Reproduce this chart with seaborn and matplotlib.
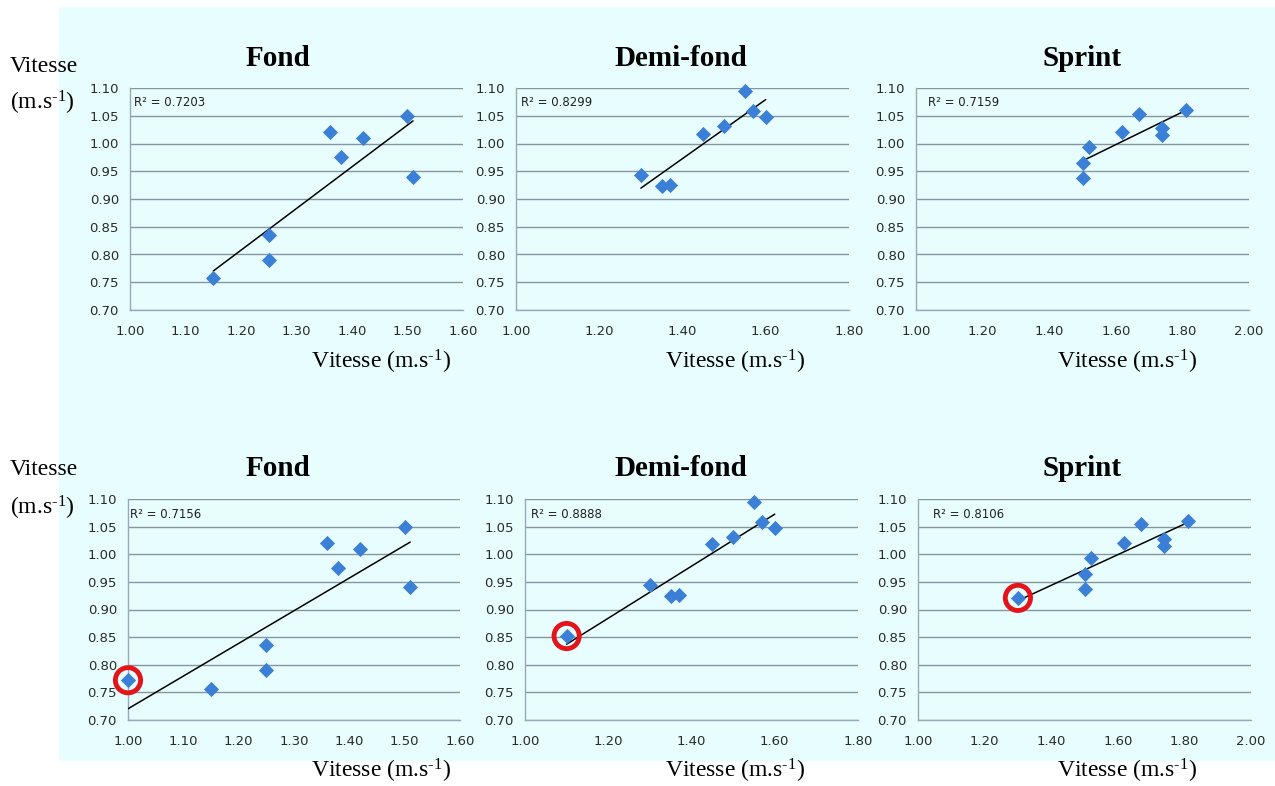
import numpy as np
import pandas as pd
import matplotlib
matplotlib.use("Agg")
import matplotlib.pyplot as plt
import seaborn as sns

# donnees
fond_x = [1.15, 1.25, 1.25, 1.36, 1.38, 1.42, 1.50, 1.51]
fond_y = [0.757, 0.836, 0.790, 1.020, 0.976, 1.010, 1.050, 0.940]
demi_x = [1.30, 1.35, 1.37, 1.45, 1.50, 1.55, 1.57, 1.60]
demi_y = [0.944, 0.924, 0.926, 1.018, 1.032, 1.094, 1.058, 1.047]
sprint_x = [1.50, 1.50, 1.52, 1.62, 1.67, 1.74, 1.74, 1.81]
sprint_y = [0.965, 0.937, 0.993, 1.020, 1.054, 1.028, 1.015, 1.060]

# point ajoute (entoure en rouge) dans la 2e ligne
extra_x = [1.00, 1.10, 1.30]
extra_y = [0.772, 0.852, 0.921]

titres = ["Fond", "Demi-fond", "Sprint"]
r2_haut = ["0.7203", "0.8299", "0.7159"]
r2_bas = ["0.7156", "0.8888", "0.8106"]
x_max = [1.6, 1.8, 2.0]
x_pas = [0.1, 0.2, 0.2]
y_ticks = [0.70, 0.75, 0.80, 0.85, 0.90, 0.95, 1.00, 1.05, 1.10]

sns.set_style("white")
plt.rcParams['font.family'] = ['DejaVu Sans']
plt.rcParams['text.color'] = 'black'
plt.rcParams['mathtext.fontset'] = 'custom'
plt.rcParams['mathtext.rm'] = 'Liberation Serif'
plt.rcParams['mathtext.it'] = 'Liberation Serif:italic'
plt.rcParams['mathtext.bf'] = 'Liberation Serif:bold'

W, H = 1275, 786
fig = plt.figure(figsize=(W / 100, H / 100), dpi=100)
fig.patch.set_facecolor("white")
fig.add_artist(plt.Rectangle((59 / W, 1 - 760 / H), (W - 59) / W, (760 - 7) / H,
                             transform=fig.transFigure, color="#E8FEFE", zorder=0))

serif = "Liberation Serif"
bleu = "#3B80D6"
grille = "#8795A3"
unite = r"(m.s$^{\text{-1}}$)"

# boites des axes en pixels (gauche, droite, haut, bas)
boites = [
    [(130, 463, 88, 310), (516, 849, 88, 310), (916, 1249, 88, 310)],
    [(128, 460, 499, 720), (525, 858, 499, 720), (918, 1251, 499, 720)],
]
r2_dx = [[4, 5, 12], [2, 6, 15]]
titre_x = [278, 681, 1082]
xlabel_x = [381, 735, 1127]

donnees = [(fond_x, fond_y), (demi_x, demi_y), (sprint_x, sprint_y)]

for ligne in range(2):
    for j in range(3):
        l, r, t, b = boites[ligne][j]
        ax = fig.add_axes([l / W, 1 - b / H, (r - l) / W, (b - t) / H])
        ax.set_facecolor("none")
        xs, ys = list(donnees[j][0]), list(donnees[j][1])
        if ligne == 1:
            xs = [extra_x[j]] + xs
            ys = [extra_y[j]] + ys
        df = pd.DataFrame({"x": xs, "y": ys})

        sns.regplot(data=df, x="x", y="y", ax=ax, scatter=False, ci=None,
                    truncate=True, line_kws={"color": "black", "lw": 1.1, "zorder": 3})
        sns.scatterplot(data=df, x="x", y="y", ax=ax, marker="D", s=60,
                        color=bleu, edgecolor=bleu, linewidth=0, zorder=4, clip_on=False)
        if ligne == 1:
            ax.scatter([extra_x[j]], [extra_y[j]], s=330, facecolors="none",
                       edgecolors="#E5141B", linewidths=3.5, zorder=5, clip_on=False)

        ax.set_xlim(1.0, x_max[j])
        ax.set_ylim(0.70, 1.10)
        ax.set_xticks(np.arange(1.0, x_max[j] + 1e-9, x_pas[j]))
        ax.set_yticks(y_ticks)
        ax.xaxis.set_major_formatter(matplotlib.ticker.FormatStrFormatter("%.2f"))
        ax.yaxis.set_major_formatter(matplotlib.ticker.FormatStrFormatter("%.2f"))
        ax.grid(axis="y", color=grille, lw=1.0, zorder=1)
        ax.set_axisbelow(True)
        for s in ["top", "right"]:
            ax.spines[s].set_visible(False)
        for s in ["left", "bottom"]:
            ax.spines[s].set_color("#98A8BA")
            ax.spines[s].set_linewidth(1.0)
        ax.tick_params(axis="both", which="major", direction="out", length=5,
                       width=1.0, color="#98A8BA", labelsize=9.5, labelcolor="#2A2A2A", pad=3)
        ax.tick_params(axis="x", pad=6)
        ax.set_xlabel("")
        ax.set_ylabel("")

        r2 = r2_haut[j] if ligne == 0 else r2_bas[j]
        ax.annotate("R² = " + r2, xy=(0, 1), xycoords="axes fraction",
                    xytext=(r2_dx[ligne][j], -15), textcoords="offset pixels",
                    ha="left", va="center", fontsize=8.5, color="#202020")

    ty = 58 if ligne == 0 else 469
    xy = 362 if ligne == 0 else 771
    for j in range(3):
        fig.text(titre_x[j] / W, 1 - ty / H, titres[j], ha="center", va="center",
                 fontsize=21, fontweight="bold", family=serif, color="black")
        fig.text(xlabel_x[j] / W, 1 - xy / H, "Vitesse " + unite,
                 ha="center", va="center", fontsize=17, family=serif, color="black")
    v1 = 66 if ligne == 0 else 470
    v2 = 103 if ligne == 0 else 508
    fig.text(10 / W, 1 - v1 / H, "Vitesse", ha="left", va="center", fontsize=17,
             family=serif, color="black")
    fig.text(10 / W, 1 - v2 / H, unite, ha="left", va="center",
             fontsize=17, family=serif, color="black")

fig.savefig("out.png", dpi=100)
